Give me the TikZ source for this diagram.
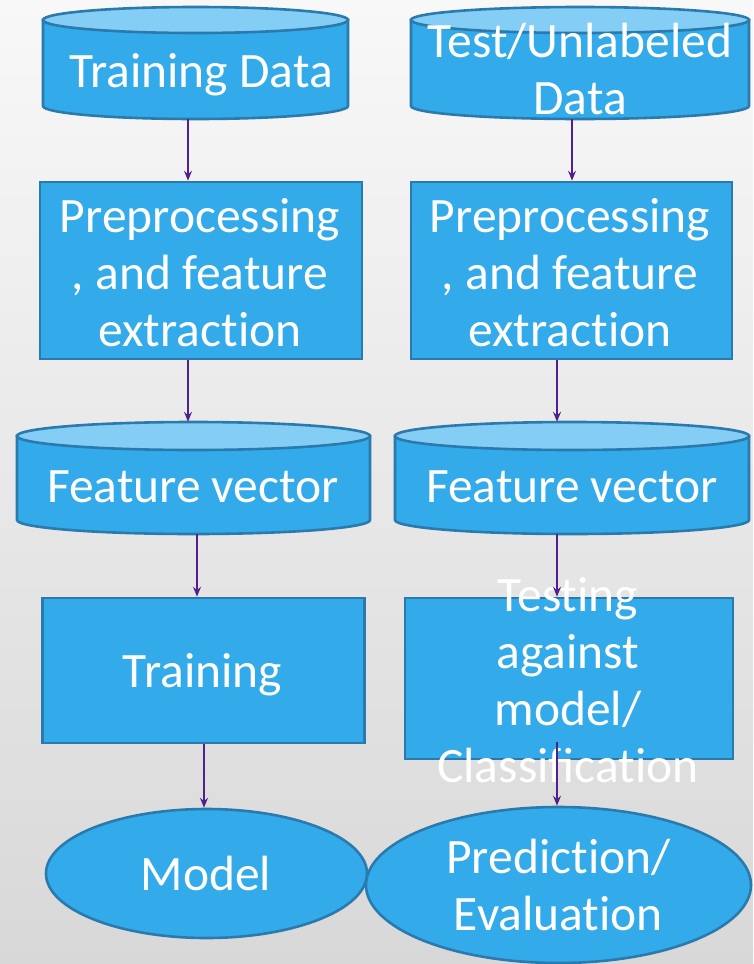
\documentclass[tikz,border=0pt]{standalone}
\usepackage{fontspec}
\setmainfont{Carlito}[Ligatures={NoCommon,NoContextual}]
\usetikzlibrary{arrows.meta,shapes.geometric}

\definecolor{boxfill}{HTML}{33ABEB}
\definecolor{lidfill}{HTML}{84CDF4}
\definecolor{boxedge}{HTML}{2A7AAE}
\definecolor{arrowpurple}{HTML}{52208C}
\definecolor{bgtop}{HTML}{F8F8F8}
\definecolor{bgbottom}{HTML}{D8D8D8}

\tikzset{
  shapeline/.style={draw=boxedge, line width=2.6pt, fill=boxfill},
  drumlid/.style={shapeline, fill=lidfill},
  stepbox/.style={shapeline, rectangle, inner sep=0pt},
  oval/.style={shapeline, ellipse, inner sep=0pt},
  lbl/.style={text=white, align=center, inner sep=0pt,
              font=\fontsize{49.5}{57}\selectfont},
  arr/.style={draw=arrowpurple, line width=1.9pt,
              -{Stealth[length=10pt,width=8pt,inset=3.5pt]}},
}

% \drum{name}{left x}{right x}{lid centre y}{base centre y}{end half-height}
\newcommand\drum[6]{%
  \pgfmathsetmacro\drumcx{(#2+#3)/2}%
  \pgfmathsetmacro\drumrx{(#3-#2)/2}%
  \pgfmathsetmacro\drumcy{(#4+#5)/2}%
  \pgfmathsetmacro\drumw{#3-#2}%
  \pgfmathsetmacro\drumh{#5-#4+2*#6}%
  \node[minimum width=\drumw pt, minimum height=\drumh pt, inner sep=0pt]
    (#1) at (\drumcx,\drumcy) {};
  \path[shapeline] (#2,#4) -- (#2,#5)
    arc[start angle=180, end angle=360, x radius=\drumrx pt, y radius=#6pt]
    -- (#3,#4) -- cycle;
  \path[drumlid] (\drumcx,#4) ellipse[x radius=\drumrx pt, y radius=#6pt];
}

\begin{document}
\begin{tikzpicture}[x=1pt, y=-1pt]
  \useasboundingbox (0,0) rectangle (753,964);
  \shade[top color=bgtop, bottom color=bgbottom] (0,0) rectangle (753,964);

  % data stores
  \drum{td}{43}{348}{20}{106}{13}
  \node[lbl, anchor=base] (td-text) at (201,87) {Training Data};
  \drum{tu}{411}{749}{20}{106}{13}
  \node[lbl] (tu-text) at (580,69) {Test/Unlabeled\\Data};

  % preprocessing
  \node[stepbox, minimum width=322pt, minimum height=177pt] (pp1) at (201,270.5) {};
  \node[lbl] (pp1-text) at (200,273) {Preprocessing\\, and feature\\extraction};
  \node[stepbox, minimum width=321pt, minimum height=177pt] (pp2) at (571.5,270.5) {};
  \node[lbl] (pp2-text) at (570,273) {Preprocessing\\, and feature\\extraction};

  % feature vectors
  \drum{fv1}{17}{370}{436}{520}{14}
  \node[lbl, anchor=base] (fv1-text) at (193,502) {Feature vector};
  \drum{fv2}{395}{749}{436}{520}{14}
  \node[lbl, anchor=base] (fv2-text) at (572,502) {Feature vector};

  % training / testing
  \node[stepbox, minimum width=322pt, minimum height=145pt] (tr) at (203.5,670.5) {};
  \node[lbl, anchor=base] (tr-text) at (202.5,687) {Training};
  \node[stepbox, minimum width=328pt, minimum height=161pt] (te) at (569,678.5) {};
  \node[lbl] (te-text) at (568,680) {Testing\\against\\model/\\Classiﬁcation};

  % results
  \node[oval, minimum width=321pt, minimum height=129pt] (model) at (206.5,873.5) {};
  \node[lbl, anchor=base] (model-text) at (206,890) {Model};
  \node[oval, minimum width=385pt, minimum height=156pt] (pred) at (558.5,885) {};
  \node[lbl] (pred-text) at (558.5,884.5) {Prediction/\\Evaluation};

  % connectors
  \draw[arr] (188,0 |- td.south) -- (188,0 |- pp1.north);
  \draw[arr] (572,0 |- tu.south) -- (572,0 |- pp2.north);
  \draw[arr] (188,0 |- pp1.south) -- (188,0 |- fv1.north);
  \draw[arr] (557,0 |- pp2.south) -- (557,0 |- fv2.north);
  \draw[arr] (197,0 |- fv1.south) -- (197,0 |- tr.north);
  \draw[arr] (557,0 |- fv2.south) -- (557,0 |- te.north);
  \draw[arr] (204,0 |- tr.south) -- (204,0 |- model.north);
  \coordinate (te-out) at (557,742);
  \draw[arr] (te-out) -- (557,0 |- pred.north);
\end{tikzpicture}
\end{document}
